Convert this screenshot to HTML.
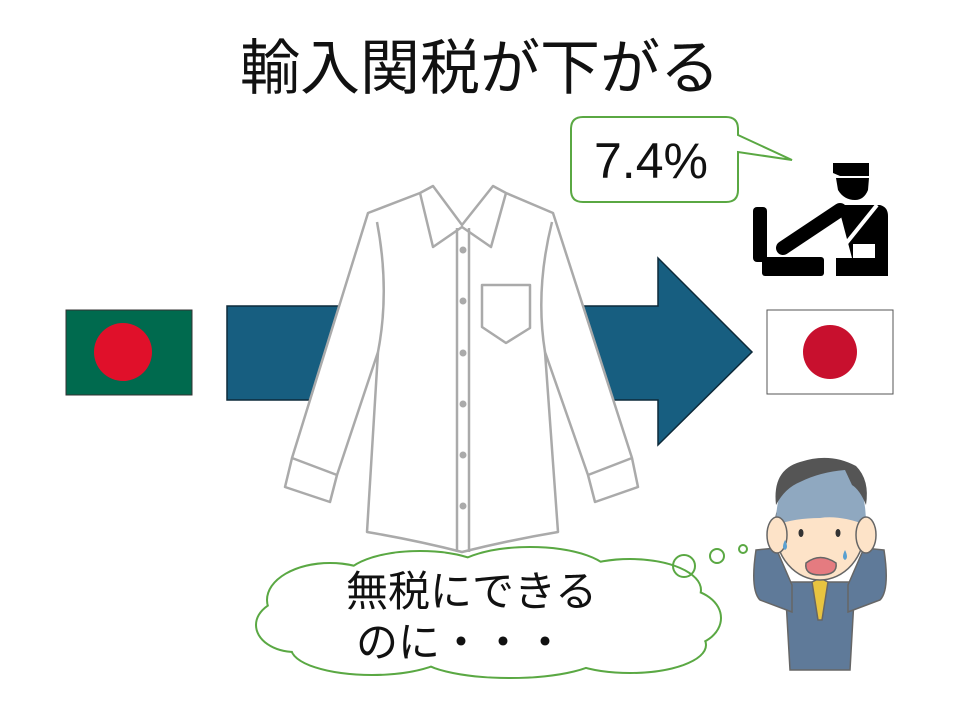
<!DOCTYPE html>
<html><head><meta charset="utf-8"><style>
html,body{margin:0;padding:0;background:#fff;}
svg{display:block;}
text{font-family:"Liberation Sans","Noto Sans CJK JP",sans-serif;}
</style></head><body>
<svg width="960" height="720" viewBox="0 0 960 720" xmlns="http://www.w3.org/2000/svg">
<rect width="960" height="720" fill="#fff"/>
<text x="480" y="89" font-size="60" text-anchor="middle" fill="#111">輸入関税が下がる</text>

<rect x="66" y="310" width="126" height="85" fill="#006a4e" stroke="#333" stroke-width="1"/>
<circle cx="123" cy="352" r="29" fill="#e0102a"/>

<rect x="767" y="310" width="126" height="84" fill="#fff" stroke="#555" stroke-width="1"/>
<circle cx="830" cy="352" r="27" fill="#c8102e"/>

<path d="M227,306 L658,306 L658,258 L752,352 L658,445 L658,400 L227,400 Z" fill="#175e80" stroke="#0d2a3a" stroke-width="1.5"/>

<!-- Shirt fill covering -->
<path d="M368,213 L553,213 L632,458 L600,470 L558,532 L367,532 L325,470 L292,458 Z" fill="#fff"/>
<g stroke="#aaa" stroke-width="2.5" fill="#fff" stroke-linejoin="round">
<path d="M368,213 L420,193 L433,186 L462,225 L493,186 L506,193 L553,213 L632,458 L638,487 L595,502 L588,475 L545,352 L558,532 Q510,540 462,552 Q415,540 367,532 L378,352 L337,475 L330,502 L285,487 L292,458 Z"/>
<path d="M420,193 L433,247 L462,227 L491,247 L506,193" fill="none"/>
<path d="M377,222 Q390,290 378,352" fill="none"/>
<path d="M552,222 Q535,290 545,352" fill="none"/>
<path d="M292,458 L337,475 M588,475 L632,458" fill="none"/>
<path d="M457,228 L457,552 M469,228 L469,552" fill="none"/>
<path d="M482,285 L530,285 L530,328 L506,343 L482,327 Z"/>
</g>
<g fill="#aaa">
<circle cx="463" cy="250" r="3.5"/><circle cx="463" cy="301" r="3.5"/><circle cx="463" cy="353" r="3.5"/>
<circle cx="463" cy="404" r="3.5"/><circle cx="463" cy="455" r="3.5"/><circle cx="463" cy="506" r="3.5"/>
</g>

<path d="M583,117 L726,117 Q738,117 738,129 L738,135 L792,160 L738,152 L738,190 Q738,202 726,202 L583,202 Q571,202 571,190 L571,129 Q571,117 583,117 Z" fill="#fff" stroke="#5aa843" stroke-width="2"/>
<text x="594" y="178" font-size="50" fill="#111">7.4%</text>

<g fill="#000">
<path d="M833,163 L869,163 L869,176 L840,176 L833,173 Z"/>
<path d="M836,178 L869,178 L868,190 Q864,200 855,200 Q844,200 838,190 Z"/>
<rect x="753" y="207" width="14" height="55" rx="4"/>
<rect x="762" y="257" width="62" height="19" rx="3"/>
<path d="M838,205 L880,205 Q888,207 888,216 L888,276 L836,276 L836,258 L852,258 Z"/>
<line x1="783" y1="248" x2="840" y2="210" stroke="#000" stroke-width="14" stroke-linecap="round"/>
</g>
<line x1="877" y1="205" x2="836" y2="256" stroke="#fff" stroke-width="4"/>
<rect x="853" y="244" width="22" height="14" fill="#fff"/>

<g fill="none" stroke="#5aa843" stroke-width="4">
<ellipse cx="330" cy="600" rx="62" ry="36"/>
<ellipse cx="420" cy="580" rx="75" ry="28"/>
<ellipse cx="530" cy="576" rx="80" ry="28"/>
<ellipse cx="630" cy="590" rx="70" ry="30"/>
<ellipse cx="682" cy="618" rx="38" ry="28"/>
<ellipse cx="630" cy="645" rx="75" ry="27"/>
<ellipse cx="510" cy="655" rx="90" ry="22"/>
<ellipse cx="372" cy="648" rx="80" ry="26"/>
<ellipse cx="295" cy="625" rx="38" ry="26"/>
</g>
<g fill="#fff">
<ellipse cx="330" cy="600" rx="62" ry="36"/>
<ellipse cx="420" cy="580" rx="75" ry="28"/>
<ellipse cx="530" cy="576" rx="80" ry="28"/>
<ellipse cx="630" cy="590" rx="70" ry="30"/>
<ellipse cx="682" cy="618" rx="38" ry="28"/>
<ellipse cx="630" cy="645" rx="75" ry="27"/>
<ellipse cx="510" cy="655" rx="90" ry="22"/>
<ellipse cx="372" cy="648" rx="80" ry="26"/>
<ellipse cx="295" cy="625" rx="38" ry="26"/>
<ellipse cx="480" cy="615" rx="200" ry="40"/>
</g>
<g fill="none" stroke="#5aa843" stroke-width="2">
<circle cx="684" cy="566" r="11"/><circle cx="717" cy="556" r="7"/><circle cx="743" cy="549" r="4"/>
</g>
<text x="346" y="606" font-size="42" fill="#111">無税にできる</text>
<text x="356" y="657" font-size="42" fill="#111">のに・・・</text>

<g stroke="#666" stroke-width="1.5">
<path d="M785,582 L855,582 L850,670 L790,670 Z" fill="#5f7a99"/>
<path d="M756,550 L776,548 L792,585 L792,612 L760,600 Q750,590 756,550 Z" fill="#5f7a99"/>
<path d="M884,550 L864,548 L848,585 L848,612 L880,600 Q890,590 884,550 Z" fill="#5f7a99"/>
<path d="M812,582 L820,578 L828,582 L822,620 L818,620 Z" fill="#e8c440"/>
<ellipse cx="820" cy="528" rx="45" ry="52" fill="#fde3c8"/>
<path d="M776,525 Q776,490 790,478 Q815,460 845,468 Q866,480 866,525 Q840,515 820,518 Q795,518 776,525 Z" fill="#8fa8c0" stroke="none"/>
<path d="M776,505 Q772,470 800,462 Q830,452 856,466 Q870,480 866,505 Q860,490 852,485 L845,470 Q820,472 800,482 Q785,488 776,505 Z" fill="#555" stroke="none"/>
<ellipse cx="777" cy="535" rx="10" ry="18" fill="#fde3c8"/>
<ellipse cx="866" cy="535" rx="10" ry="18" fill="#fde3c8"/>
<path d="M806,563 Q820,552 836,563 Q838,575 820,575 Q804,575 806,563 Z" fill="#e57b80"/>
</g>
<ellipse cx="801" cy="533" rx="2.5" ry="4" fill="#333"/>
<ellipse cx="838" cy="533" rx="2.5" ry="4" fill="#333"/>
<path d="M785,540 q-4,8 0,10 q4,-2 0,-10z M845,550 q-4,8 0,10 q4,-2 0,-10z" fill="#5aa0d0"/>
</svg>
</body></html>
